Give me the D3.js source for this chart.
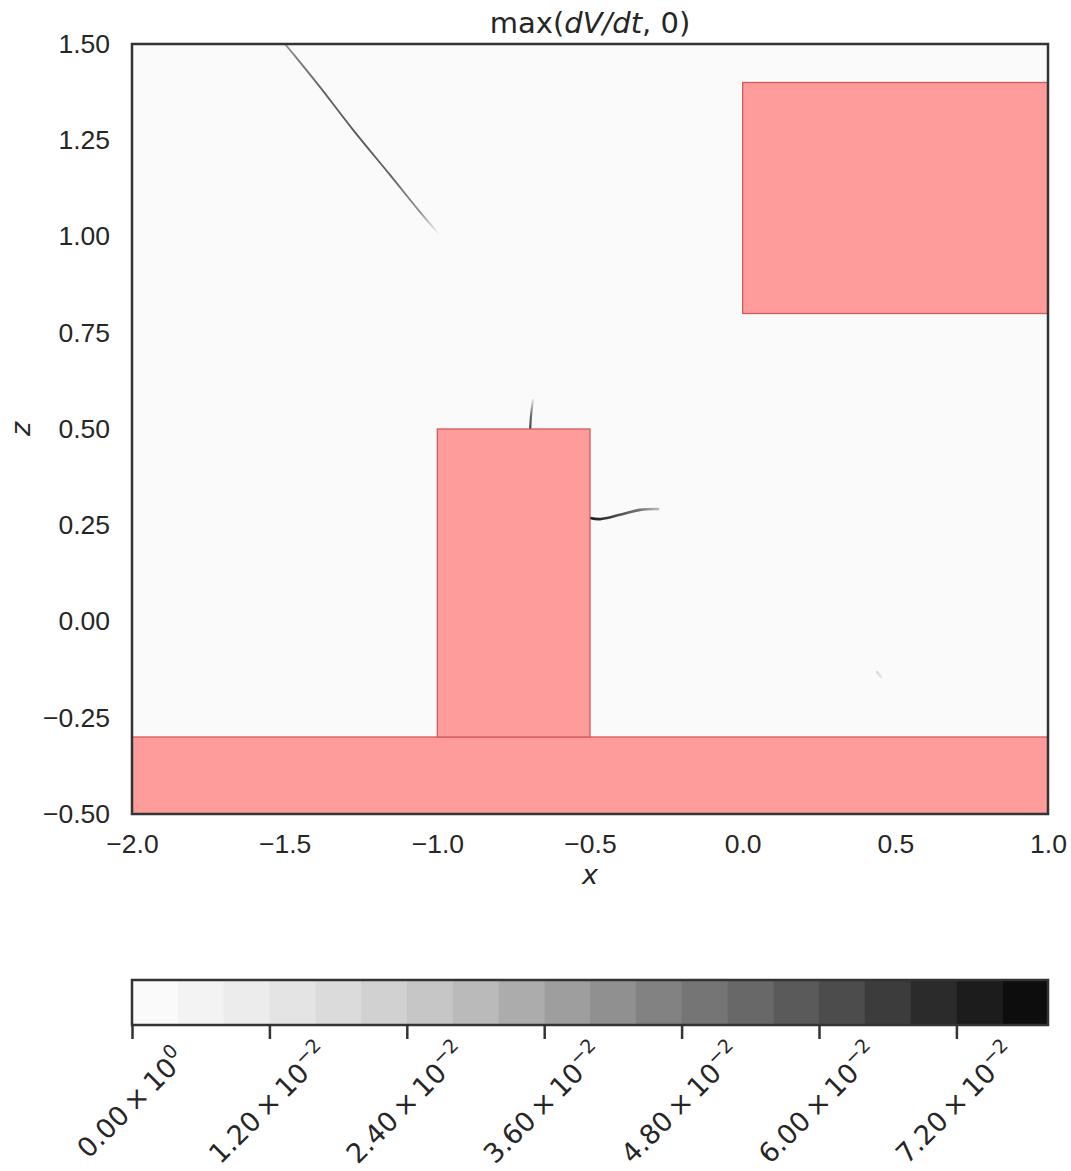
<!DOCTYPE html>
<html>
<head>
<meta charset="utf-8">
<script src="https://cdn.jsdelivr.net/npm/d3@7"></script>
<style>
  html, body { margin: 0; padding: 0; background: #ffffff; }
  svg { display: block; }
  .tick-label { font-family: "Liberation Sans", Arial, sans-serif; font-size: 26.5px; fill: #262626; }
  .math { font-family: "DejaVu Sans", sans-serif; }
</style>
</head>
<body>
<svg id="chart" width="1071" height="1171"></svg>
<script>
// Domain of the x–z slice and the axis ticks
const xDomain = [-2.0, 1.0];
const zDomain = [-0.5, 1.5];
const xTicks = [-2.0, -1.5, -1.0, -0.5, 0.0, 0.5, 1.0];
const zTicks = [-0.5, -0.25, 0.0, 0.25, 0.5, 0.75, 1.0, 1.25, 1.5];

// Solid obstacles (ground slab, pillar, overhanging block)
const solidX0 = [-2.0, -1.0, 0.0];
const solidX1 = [ 1.0, -0.5, 1.0];
const solidZ0 = [-0.5, -0.3, 0.8];
const solidZ1 = [-0.3,  0.5, 1.4];

// Regions of positive dV/dt: traced ridges as [x, z, value]
const ridgeDiagonal = [
  [-1.499, 1.500, 0.040], [-1.450, 1.453, 0.048], [-1.384, 1.388, 0.054],
  [-1.276, 1.277, 0.058], [-1.155, 1.160, 0.056], [-1.057, 1.064, 0.042],
  [-0.998, 1.009, 0.006]
];
const ridgeAbovePillar = [
  [-0.696, 0.500, 0.064], [-0.693, 0.536, 0.052], [-0.687, 0.575, 0.016]
];
const ridgeBesidePillar = [
  [-0.500, 0.269, 0.074], [-0.467, 0.266, 0.070], [-0.402, 0.277, 0.060],
  [-0.336, 0.290, 0.050], [-0.277, 0.292, 0.030]
];
const ridgeSmall = [
  [0.440, -0.131, 0.020], [0.453, -0.144, 0.014]
];
const ridges = [
  { pts: ridgeDiagonal, w: 1.9 },
  { pts: ridgeAbovePillar, w: 2.2 },
  { pts: ridgeBesidePillar, w: 2.6 },
  { pts: ridgeSmall, w: 2.4 }
];

// Colour levels of the filled field and colorbar ticks
const levelMin = 0.0, levelMax = 0.08, levelCount = 20;
const cbarTicks = [0.0, 0.012, 0.024, 0.036, 0.048, 0.060, 0.072];
const cbarMantissa = ["0.00", "1.20", "2.40", "3.60", "4.80", "6.00", "7.20"];
const cbarExponent = ["0", "\u22122", "\u22122", "\u22122", "\u22122", "\u22122", "\u22122"];

const svg = d3.select("#chart");
const defs = svg.append("defs");
const plot = { left: 132, right: 1048, top: 44, bottom: 814 };

const x = d3.scaleLinear().domain(xDomain).range([plot.left, plot.right]);
const z = d3.scaleLinear().domain(zDomain).range([plot.bottom, plot.top]);

const levelStep = (levelMax - levelMin) / levelCount;
const levelEdges = d3.range(levelCount + 1).map(i => levelMin + i * levelStep);
const levelColors = d3.range(levelCount).map(i => d3.interpolateGreys(0.02 + (i + 0.5) / levelCount * 0.96));
const color = d3.scaleQuantize().domain([levelMin, levelMax]).range(levelColors);
const smoothColor = d3.scaleSequential(v => d3.interpolateGreys(0.02 + v * 0.96)).domain([levelMin, levelMax]);

// Field background (lowest level)
svg.append("rect")
  .attr("x", plot.left).attr("y", plot.top)
  .attr("width", plot.right - plot.left).attr("height", plot.bottom - plot.top)
  .attr("fill", color(0));

defs.append("clipPath").attr("id", "plot-clip").append("rect")
  .attr("x", plot.left).attr("y", plot.top)
  .attr("width", plot.right - plot.left).attr("height", plot.bottom - plot.top);

const field = svg.append("g").attr("clip-path", "url(#plot-clip)");

// Ridges: smooth paths shaded along their length by value
const ridgeLine = d3.line().x(d => x(d[0])).y(d => z(d[1])).curve(d3.curveCatmullRom.alpha(0.5));
ridges.forEach((r, k) => {
  const p0 = r.pts[0], p1 = r.pts[r.pts.length - 1];
  const X0 = x(p0[0]), Y0 = z(p0[1]), X1 = x(p1[0]), Y1 = z(p1[1]);
  const L2 = (X1 - X0) ** 2 + (Y1 - Y0) ** 2;
  const grad = defs.append("linearGradient").attr("id", `ridge-grad-${k}`)
    .attr("gradientUnits", "userSpaceOnUse")
    .attr("x1", X0).attr("y1", Y0).attr("x2", X1).attr("y2", Y1);
  r.pts.forEach(p => {
    const t = ((x(p[0]) - X0) * (X1 - X0) + (z(p[1]) - Y0) * (Y1 - Y0)) / L2;
    grad.append("stop").attr("offset", Math.max(0, Math.min(1, t)))
      .attr("stop-color", smoothColor(p[2]));
  });
  field.append("path")
    .attr("d", ridgeLine(r.pts))
    .attr("fill", "none")
    .attr("stroke", `url(#ridge-grad-${k})`)
    .attr("stroke-width", r.w)
    .attr("stroke-linecap", "round");
});

// Obstacles
field.append("g").selectAll("rect").data(d3.range(solidX0.length)).join("rect")
  .attr("x", i => x(solidX0[i]))
  .attr("y", i => z(solidZ1[i]))
  .attr("width", i => x(solidX1[i]) - x(solidX0[i]))
  .attr("height", i => z(solidZ0[i]) - z(solidZ1[i]))
  .attr("fill", "#fe9c9b")
  .attr("stroke", "#d05c5c")
  .attr("stroke-width", 1.3);

// Frame
svg.append("rect")
  .attr("x", plot.left).attr("y", plot.top)
  .attr("width", plot.right - plot.left).attr("height", plot.bottom - plot.top)
  .attr("fill", "none").attr("stroke", "#333333").attr("stroke-width", 2.5);

// Axes (labels only, no tick marks)
const xAxis = d3.axisBottom(x).tickValues(xTicks).tickSize(0).tickPadding(20)
  .tickFormat(d => d3.format(".1f")(d).replace("-", "\u2212"));
const gx = svg.append("g").attr("transform", `translate(0,${plot.bottom})`).call(xAxis);
gx.select(".domain").remove();
gx.selectAll("text").attr("class", "tick-label").attr("fill", null);

const zAxis = d3.axisLeft(z).tickValues(zTicks).tickSize(0).tickPadding(22)
  .tickFormat(d => d3.format(".2f")(d).replace("-", "\u2212"));
const gz = svg.append("g").attr("transform", `translate(${plot.left},0)`).call(zAxis);
gz.select(".domain").remove();
gz.selectAll("text").attr("class", "tick-label").attr("fill", null);

// Axis titles
svg.append("text").attr("x", (plot.left + plot.right) / 2).attr("y", 884)
  .attr("text-anchor", "middle").attr("class", "math")
  .style("font-size", "27px").style("font-style", "italic").attr("fill", "#262626").text("x");
svg.append("text").attr("transform", `translate(30,${(plot.top + plot.bottom) / 2}) rotate(-90)`)
  .attr("text-anchor", "middle").attr("class", "math")
  .style("font-size", "27px").style("font-style", "italic").attr("fill", "#262626").text("z");

// Title
const title = svg.append("text").attr("x", (plot.left + plot.right) / 2).attr("y", 33)
  .attr("text-anchor", "middle").attr("fill", "#262626").attr("class", "math").style("font-size", "29px");
title.append("tspan").text("max(");
title.append("tspan").style("font-style", "italic").text("dV/dt");
title.append("tspan").text(", 0)");

// Colorbar
const cbar = { left: 132, right: 1048, top: 980, bottom: 1025 };
const cx = d3.scaleLinear().domain([levelMin, levelMax]).range([cbar.left, cbar.right]);

svg.append("g").selectAll("rect").data(d3.range(levelCount)).join("rect")
  .attr("x", i => cx(levelEdges[i]))
  .attr("y", cbar.top)
  .attr("width", i => cx(levelEdges[i + 1]) - cx(levelEdges[i]) + 0.5)
  .attr("height", cbar.bottom - cbar.top)
  .attr("fill", i => levelColors[i]);

svg.append("rect")
  .attr("x", cbar.left).attr("y", cbar.top)
  .attr("width", cbar.right - cbar.left).attr("height", cbar.bottom - cbar.top)
  .attr("fill", "none").attr("stroke", "#333333").attr("stroke-width", 2.5);

const cAxis = d3.axisBottom(cx).tickValues(cbarTicks).tickSize(14).tickFormat("");
const gc = svg.append("g").attr("transform", `translate(0,${cbar.bottom})`).call(cAxis);
gc.select(".domain").remove();
gc.selectAll(".tick line").attr("stroke", "#333333").attr("stroke-width", 2.5);

// Rotated tick labels, centred on their ticks
const cLabels = svg.append("g").selectAll("text").data(d3.range(cbarTicks.length)).join("text")
  .attr("transform", i => `translate(${cx(cbarTicks[i]) + 6},${1110}) rotate(-45)`)
  .attr("text-anchor", "middle")
  .attr("class", "math")
  .attr("fill", "#262626")
  .style("font-size", "27px");
cLabels.append("tspan").text(i => cbarMantissa[i] + "\u2009\u00d7\u200910");
cLabels.append("tspan").attr("dy", -12).style("font-size", "19px").text(i => cbarExponent[i]);
</script>
</body>
</html>
